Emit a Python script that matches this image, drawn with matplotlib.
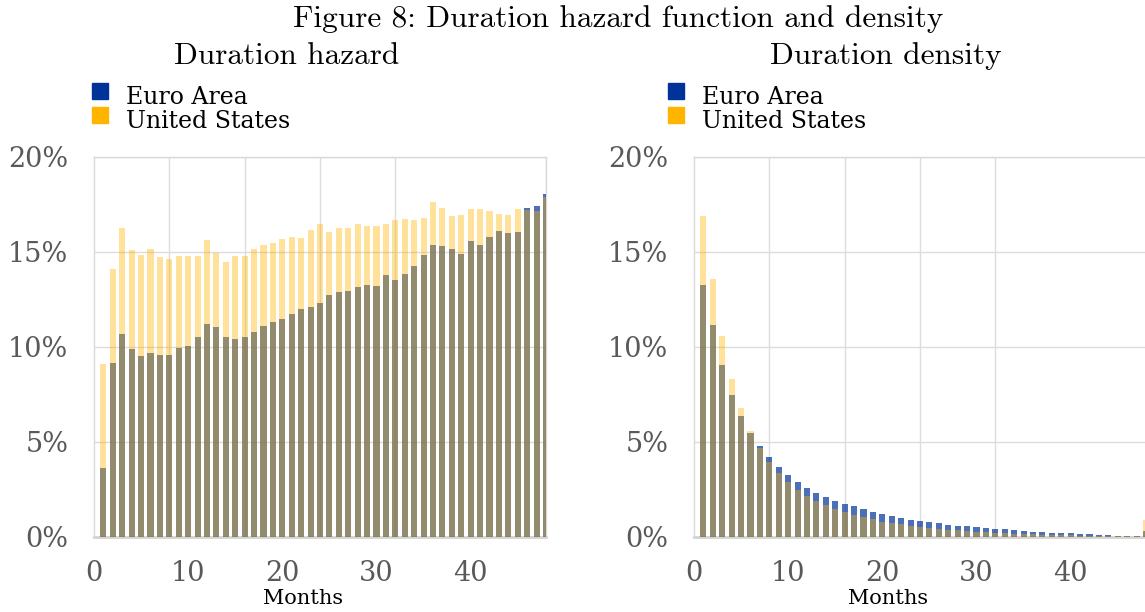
import matplotlib
matplotlib.use("Agg")
import matplotlib.pyplot as plt
from matplotlib.patches import Rectangle
import numpy as np

months = list(range(1, 49))

hazard_ea = [3.61, 9.14, 10.68, 9.88, 9.49, 9.67, 9.54, 9.56, 9.91, 10.02,
             10.49, 11.19, 11.04, 10.51, 10.40, 10.49, 10.77, 11.07, 11.28, 11.44,
             11.72, 11.96, 12.09, 12.30, 12.74, 12.86, 12.93, 13.12, 13.25, 13.19,
             13.75, 13.51, 13.84, 14.23, 14.82, 15.35, 15.30, 15.12, 14.89, 15.54,
             15.35, 15.77, 16.09, 16.00, 16.05, 17.30, 17.40, 18.04]
hazard_us = [9.07, 14.10, 16.25, 15.09, 14.81, 15.14, 14.72, 14.61, 14.77, 14.75,
             14.77, 15.61, 14.91, 14.46, 14.77, 14.77, 15.12, 15.35, 15.46, 15.67,
             15.79, 15.70, 16.14, 16.46, 16.04, 16.25, 16.23, 16.46, 16.33, 16.37,
             16.44, 16.67, 16.72, 16.67, 16.77, 17.61, 17.30, 16.89, 16.93, 17.26,
             17.25, 17.12, 16.98, 16.91, 17.23, 17.19, 17.14, 17.89]

density_ea = [13.25, 11.14, 9.04, 7.46, 6.35, 5.47, 4.77, 4.19, 3.68, 3.25,
              2.88, 2.58, 2.32, 2.09, 1.88, 1.72, 1.60, 1.46, 1.32, 1.19,
              1.07, 0.98, 0.88, 0.81, 0.75, 0.70, 0.63, 0.58, 0.54, 0.49,
              0.46, 0.42, 0.39, 0.35, 0.30, 0.26, 0.25, 0.21, 0.19, 0.18,
              0.14, 0.12, 0.11, 0.09, 0.06, 0.05, 0.04, 0.32]
density_us = [16.88, 13.56, 10.56, 8.30, 6.77, 5.56, 4.68, 3.95, 3.37, 2.89,
              2.47, 2.16, 1.88, 1.67, 1.46, 1.32, 1.16, 1.04, 0.91, 0.79,
              0.70, 0.65, 0.56, 0.51, 0.46, 0.40, 0.37, 0.33, 0.30, 0.26,
              0.25, 0.21, 0.18, 0.16, 0.14, 0.12, 0.11, 0.09, 0.07, 0.07,
              0.05, 0.05, 0.05, 0.05, 0.05, 0.04, 0.03, 0.88]

series_names = ["Euro Area", "United States"]
series_colors = ["#003399", "#FFB400"]
xtick_vals = [0, 10, 20, 30, 40]
ytick_vals = [0, 5, 10, 15, 20]
ytick_labels = ["0%", "5%", "10%", "15%", "20%"]

W, H = 1145, 612
fig = plt.figure(figsize=(W / 100, H / 100), dpi=100)


def px(x, y):
    return x / W, 1 - y / H


TICKFONT = "DejaVu Serif"
CM = "cmr10"

panels = [
    ("Duration hazard", hazard_ea, hazard_us, 94, 287, 303),
    ("Duration density", density_ea, density_us, 694, 886, 888),
]

for title, ea, us, left_px, title_x, months_x in panels:
    ax = fig.add_axes([left_px / W, (H - 536.7) / H, 452 / W, 380 / H])
    ax.bar(months, ea, width=0.64, color=series_colors[0], alpha=0.7,
           linewidth=0, zorder=3)
    ax.bar(months, us, width=0.64, color=series_colors[1], alpha=0.4,
           linewidth=0, zorder=4)
    ax.set_xlim(0, 48)
    ax.set_ylim(0, 20)
    ax.set_xticks(xtick_vals)
    ax.set_xticks(np.arange(0, 49, 8), minor=True)
    ax.set_yticks(ytick_vals)
    ax.set_yticklabels(ytick_labels)
    ax.grid(False)
    ax.grid(True, which="minor", axis="x", color="#dcdcdc", linewidth=1, zorder=0)
    ax.grid(True, which="major", axis="y", color="#dcdcdc", linewidth=1, zorder=0)
    ax.tick_params(which="both", length=0)
    ax.tick_params(axis="y", pad=18.5, labelsize=19.5, labelcolor="#595959")
    ax.tick_params(axis="x", pad=16.5, labelsize=19.5, labelcolor="#595959")
    for lab in ax.get_xticklabels() + ax.get_yticklabels():
        lab.set_family(TICKFONT)
    for side, sp in ax.spines.items():
        sp.set_color("#d9d9d9")
        sp.set_linewidth(1)
    ax.spines["bottom"].set_linewidth(2)
    ax.spines["bottom"].set_color("#d4d4d4")
    ax.set_axisbelow(True)

    # subtitle
    fig.text(*px(title_x, 56), title, family=CM, fontsize=22.5,
             ha="center", va="center")
    # Months label
    fig.text(*px(months_x, 598), "Months", family=TICKFONT, fontsize=15,
             ha="center", va="center")
    # legend
    sq_x = left_px - 2 if left_px < 600 else left_px - 26
    for i, (name, col) in enumerate(zip(series_names, series_colors)):
        cy = 91 + 24 * i
        x0, y0 = px(sq_x, cy + 7.5)
        fig.add_artist(Rectangle((x0, y0), 16 / W, 15 / H, color=col,
                                 transform=fig.transFigure))
        fig.text(*px(sq_x + 34, cy + 12.5), name, family=TICKFONT, fontsize=17,
                 ha="left", va="baseline")

fig.text(*px(618, 19), "Figure 8: Duration hazard function and density",
         family=CM, fontsize=22.5, ha="center", va="center")

fig.savefig("out.png", dpi=100)
